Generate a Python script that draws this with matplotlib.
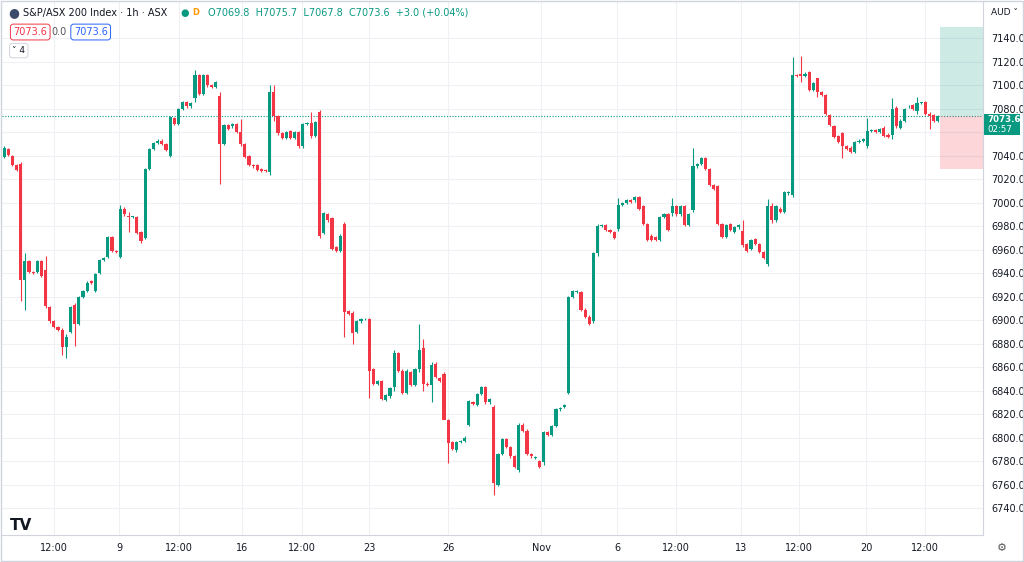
import matplotlib
matplotlib.use("Agg")
import matplotlib.pyplot as plt
from matplotlib.patches import Rectangle

opens = [7039,7046,7040,7032,7033,6934,6950,6941,6941,6950,6943,6911,6899,6894,6892,6877,6890,6913,6897,6920,
6925,6933,6925,6940,6951,6954,6971,6959,6954,6995,6989,6988,6988,6975,6970,7029,7046,7051,7053,7050,
7040,7072,7067,7080,7086,7082,7089,7109,7093,7109,7100,7099,7091,7050,7066,7065,7067,7060,7050,7040,
7032,7032,7029,7028,7026,7094,7074,7059,7055,7061,7055,7060,7048,7067,7068,7057,7077,6974,6990,6987,
6962,6959,6982,6908,6906,6890,6899,6901,6901,6858,6846,6848,6832,6835,6843,6872,6857,6838,6856,6845,
6858,6876,6846,6845,6863,6851,6854,6815,6796,6789,6796,6797,6811,6830,6828,6837,6843,6830,6826,6760,
6786,6799,6792,6784,6772,6811,6806,6786,6783,6780,6779,6805,6802,6810,6824,6826,6838,6920,6924,6924,
6909,6903,6899,6957,6980,6981,6977,6975,6978,6998,7000,7002,7002,7005,6997,6982,6972,6971,6968,6988,
6990,6991,6997,6990,6997,6981,6994,7031,7033,7038,7029,7015,7014,6982,6971,6982,6975,6979,6976,6965,
6961,6969,6965,6958,6948,6997,6985,6995,6992,7008,7007,7109,7110,7108,7111,7096,7106,7094,7092,7075,
7065,7057,7059,7048,7047,7043,7052,7053,7048,7061,7062,7060,7064,7058,7058,7081,7064,7070,7082,7083,
7078,7085,7086,7076,7075,7070]
closes = [7047,7041,7032,7028,6934,6950,6941,6940,6950,6938,6912,6899,6894,6892,6877,6886,6911,6897,6920,6925,
6932,6932,6939,6951,6953,6971,6959,6958,6995,6990,6988,6988,6974,6967,7029,7046,7051,7053,7050,7045,
7073,7067,7080,7086,7082,7085,7109,7093,7109,7100,7099,7103,7050,7066,7063,7067,7060,7050,7039,7032,
7031,7028,7027,7027,7094,7074,7059,7055,7060,7055,7060,7048,7067,7068,7057,7069,6972,6991,6985,6961,
6959,6972,6907,6905,6889,6899,6901,6901,6857,6846,6848,6833,6836,6842,6872,6857,6838,6857,6845,6858,
6875,6846,6845,6862,6852,6848,6815,6795,6790,6796,6797,6800,6831,6829,6837,6843,6830,6833,6761,6786,
6799,6792,6784,6775,6811,6806,6786,6784,6783,6775,6805,6802,6810,6824,6825,6828,6920,6925,6925,6909,
6903,6897,6957,6980,6981,6977,6975,6970,6998,7000,7002,7001,7005,6995,6982,6968,6968,6968,6988,6990,
6977,6997,6990,6997,6981,6990,7031,7033,7038,7029,7015,7012,6982,6971,6981,6977,6979,6981,6964,6959,
6968,6965,6958,6953,6997,6985,6997,6992,7009,7009,7109,7108,7108,7110,7096,7102,7094,7092,7076,7066,
7056,7052,7048,7046,7043,7052,7053,7054,7061,7062,7060,7063,7057,7056,7080,7065,7070,7080,7082,7080,
7085,7085,7076,7074,7070,7073.6]
# notable wicks: index -> (high, low)
wicks = {4:(7035,6916),5:(6957,6909),10:(6955,6910),14:(6893,6870),15:(6888,6868),17:(6915,6878),
         28:(6998,6953),30:(6992,6975),46:(7113,7086),52:(7094,7016),57:(7071,7048),64:(7100,7024),
         65:(7100,7070),74:(7077,7055),76:(7079,6970),82:(6984,6886),84:(6908,6880),88:(6902,6834),
         94:(6875,6840),100:(6897,6856),101:(6884,6840),103:(6864,6830),106:(6856,6833),107:(6816,6778),
         118:(6828,6751),130:(6806,6777),143:(6982,6955),148:(7004,6976),161:(7004,6989),166:(7047,6992),
         178:(6985,6962),184:(7003,6946),185:(7000,6983),190:(7124,7005),192:(7125,7103),196:(7105,7090),
         202:(7060,7038),208:(7072,7047),214:(7089,7054),220:(7090,7076),223:(7077,7063)}

price_ticks = [7140,7120,7100,7080,7060,7040,7020,7000,6980,6960,6940,6920,6900,6880,6860,6840,6820,
               6800,6780,6760,6740]
date_pos = [12.0,27.7,42.2,57.3,71.8,88.0,107.0,129.4,147.7,161.9,177.6,191.6,207.7,221.9]
date_labels = ["12:00","9","12:00","16","12:00","23","26","Nov","6","12:00","13","12:00","20","12:00"]
last = 7073.6

GREEN = "#089981"; RED = "#F23645"
fig = plt.figure(figsize=(10.24,5.62), dpi=100)
ax = fig.add_axes([0.002, 1-535/562, 0.958, 533/562])
ax.set_xlim(-0.5, 235.9)
ax.set_ylim(6717, 7171)
for y in price_ticks:
    ax.axhline(y, color="#eef0f3", lw=0.8, zorder=0)
for x in date_pos:
    ax.axvline(x, color="#eef0f3", lw=0.8, zorder=0)
for i,(o,c) in enumerate(zip(opens, closes)):
    col = GREEN if c >= o else RED
    hi, lo = wicks.get(i, (max(o,c)+1, min(o,c)-1))
    ax.vlines(i, lo, hi, color=col, lw=0.8, zorder=2)
    ax.add_patch(Rectangle((i-0.38, min(o,c)), 0.76, max(abs(c-o),0.4), color=col, lw=0, zorder=3))
ax.axhline(last, color=GREEN, lw=0.8, ls=(0,(1,1.5)), zorder=1)
ax.add_patch(Rectangle((225.6, last), 10.5, 7150-last, color=GREEN, alpha=0.2, lw=0))
ax.add_patch(Rectangle((225.6, 7029), 10.5, last-7029, color=RED, alpha=0.2, lw=0))
ax.set_xticks(date_pos); ax.set_xticklabels(date_labels, fontsize=7, color="#131722")
ax.yaxis.tick_right()
ax.set_yticks(price_ticks)
# the 7060 label is hidden behind the last-price box in the reference
ax.set_yticklabels(["" if v == 7060 else f"{v:.1f}" for v in price_ticks], fontsize=7, color="#131722")
ax.tick_params(length=0, pad=6)
for s in ax.spines.values(): s.set_visible(False)
ax.spines["right"].set_visible(True); ax.spines["right"].set_color("#d1d4dc")
ax.spines["bottom"].set_visible(True); ax.spines["bottom"].set_color("#d1d4dc")
fig.add_artist(Rectangle((984/1024, 1-135/562), 36/1024, 21/562, transform=fig.transFigure,
                         fc=GREEN, ec="none", zorder=5))
fig.text(987/1024, 1-119/562, "7073.6", fontsize=6.2, color="white", va="center", fontweight="bold", zorder=6)
fig.text(987/1024, 1-129/562, "02:57", fontsize=6.2, color="white", va="center", zorder=6)
# header
fig.text(0.008, 0.977, "●", fontsize=9, color="#3a4a6b", va="center")
fig.text(0.022, 0.977, "S&P/ASX 200 Index · 1h · ASX", fontsize=7, color="#131722", va="center")
fig.text(0.176, 0.977, "●", fontsize=7, color=GREEN, va="center")
fig.text(0.188, 0.977, "D", fontsize=6, color="#ff9800", va="center", fontweight="bold")
fig.text(0.203, 0.977, "O7069.8  H7075.7  L7067.8  C7073.6  +3.0 (+0.04%)", fontsize=7, color=GREEN, va="center")
fig.text(0.013, 0.943, "7073.6", fontsize=7, color=RED, va="center",
         bbox=dict(boxstyle="round,pad=0.3", fc="white", ec=RED, lw=0.7))
fig.text(0.05, 0.943, "0.0", fontsize=7, color="#555", va="center")
fig.text(0.072, 0.943, "7073.6", fontsize=7, color="#2962ff", va="center",
         bbox=dict(boxstyle="round,pad=0.3", fc="white", ec="#2962ff", lw=0.7))
fig.text(0.012, 0.91, "˅ 4", fontsize=6.5, color="#131722", va="center",
         bbox=dict(boxstyle="round,pad=0.3", fc="white", ec="#d1d4dc", lw=0.7))
fig.text(0.968, 0.977, "AUD ˅", fontsize=6.5, color="#131722", va="center")
fig.text(0.01, 0.065, "TV", fontsize=11, color="#131722", fontweight="bold", va="center")
fig.text(0.974, 0.025, "⚙", fontsize=8, color="#555", va="center")
fig.add_artist(Rectangle((0.001,0.002),0.998,0.996, transform=fig.transFigure, fill=False, ec="#d1d4dc", lw=1))
fig.savefig("out.png", dpi=100)
